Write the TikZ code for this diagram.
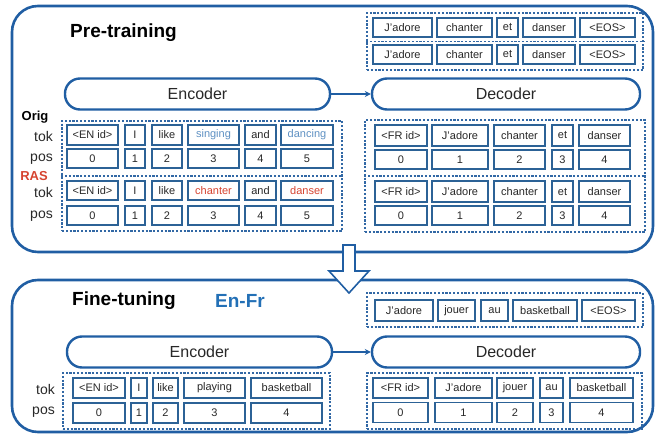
\documentclass[tikz,border=0pt]{standalone}
\usepackage{fontspec}
\setmainfont{Liberation Sans}
\usetikzlibrary{arrows.meta}

\definecolor{framec}{RGB}{32,94,163}
\definecolor{boxc}{RGB}{44,98,150}
\definecolor{dashc}{RGB}{50,104,165}
\definecolor{txt}{RGB}{40,40,40}
\definecolor{lblue}{RGB}{95,145,195}
\definecolor{rasred}{RGB}{214,68,48}
\definecolor{enfr}{RGB}{35,112,182}

\tikzset{
  frame/.style={draw=framec, line width=2.6pt, rounded corners=26pt, inner sep=0pt},
  pill/.style={draw=framec, line width=2.4pt, rounded corners=15pt, fill=white,
    minimum height=31pt, inner sep=0pt, text=txt, font=\fontsize{16}{18}\selectfont},
  dbox/.style={draw=dashc, line width=1.6pt, dash pattern=on 2.2pt off 1.6pt, inner sep=0pt},
  dline/.style={draw=dashc, line width=1.6pt, dash pattern=on 2.2pt off 1.6pt},
  tokbox/.style={draw=boxc, line width=1.6pt, fill=white, inner sep=0pt,
    font=\fontsize{11}{12}\selectfont},
  conn/.style={draw=framec, line width=1.6pt, -{Stealth[length=6pt,width=6pt]}},
  title/.style={font=\bfseries\fontsize{19}{22}\selectfont, text=black, anchor=west, inner sep=0pt},
  rowlab/.style={font=\fontsize{14}{16}\selectfont, text=txt, anchor=east, inner sep=0pt},
  grplab/.style={font=\bfseries\fontsize{13}{15}\selectfont, anchor=center, inner sep=0pt},
}

\begin{document}
\begin{tikzpicture}[x=1pt,y=-1pt]
\useasboundingbox (0,0) rectangle (655,435);

% ---------- outer frames ----------
\node[frame, minimum width=641pt, minimum height=246pt] (pre) at (332.5,129) {};
\node[frame, minimum width=641pt, minimum height=152pt] (ft) at (332.5,356) {};

% stage change arrow between the frames
\draw[draw=framec, line width=1.6pt, fill=white, line join=miter]
  (343,245) -- (355,245) -- (355,271) -- (369,271) -- (349,293)
  -- (329,271) -- (343,271) -- cycle;

% ---------- pre-training ----------
\node[title] (pretitle) at (70,33) {Pre-training};

% decoder targets (two rows)
\node[dbox, minimum width=276pt, minimum height=57pt] (ptgt) at (505,41.5) {};
\draw[dline] (ptgt.west |- 0,41.5) -- (ptgt.east |- 0,41.5);
\foreach \a/\b/\t [count=\i] in {373/432/J'adore, 437/492/chanter, 497/518/et, 523/575/danser, 580/635/<EOS>}{
  \node[tokbox, minimum width={(\b-\a)*1pt}, minimum height=19pt, text=txt] (ptA\i) at ({(\a+\b)/2},27.5) {\t};
  \node[tokbox, minimum width={(\b-\a)*1pt}, minimum height=19pt, text=txt] (ptB\i) at ({(\a+\b)/2},54.5) {\t};
}

% encoder / decoder
\node[pill, minimum width=265pt] (enc1) at (197.5,94) {Encoder};
\node[pill, minimum width=268pt] (dec1) at (506,94) {Decoder};
\draw[conn] (enc1) -- (dec1);

% row labels
\node[grplab, text=black] (lorig) at (35,117) {Orig};
\node[rowlab] (ltok1) at (53,136) {tok};
\node[rowlab] (lpos1) at (53,159) {pos};
\node[grplab, text=rasred] (lras) at (34,176) {RAS};
\node[rowlab] (ltok2) at (53,192) {tok};
\node[rowlab] (lpos2) at (53,216) {pos};

% encoder inputs, original and replaced
\node[dbox, minimum width=280pt, minimum height=110pt] (pein) at (202,176) {};
\draw[dline] (pein.west |- 0,176) -- (pein.east |- 0,176);
\foreach \a/\b/\t/\c/\u/\d [count=\i] in {
   67/118/<EN id>/txt/<EN id>/txt, 125/145/I/txt/I/txt, 152/182/like/txt/like/txt,
   188/239/singing/lblue/chanter/rasred, 245/276/and/txt/and/txt,
   281/333/dancing/lblue/danser/rasred}{
  \pgfmathtruncatemacro\p{\i-1}
  \node[tokbox, minimum width={(\b-\a)*1pt}, minimum height=20pt, text=\c] (peo\i) at ({(\a+\b)/2},135) {\t};
  \node[tokbox, minimum width={(\b-\a)*1pt}, minimum height=19pt, text=txt] (pep\i) at ({(\a+\b)/2},158.5) {\p};
  \node[tokbox, minimum width={(\b-\a)*1pt}, minimum height=19pt, text=\d] (per\i) at ({(\a+\b)/2},190.5) {\u};
  \node[tokbox, minimum width={(\b-\a)*1pt}, minimum height=19pt, text=txt] (peq\i) at ({(\a+\b)/2},215.5) {\p};
}

% decoder inputs
\node[dbox, minimum width=280pt, minimum height=112pt] (pdin) at (505,176) {};
\draw[dline] (pdin.west |- 0,176) -- (pdin.east |- 0,176);
\foreach \a/\b/\t [count=\i] in {375/427/<FR id>, 432/488/J'adore, 494/545/chanter, 552/573/et, 579/630/danser}{
  \pgfmathtruncatemacro\p{\i-1}
  \node[tokbox, minimum width={(\b-\a)*1pt}, minimum height=21pt, text=txt] (pdo\i) at ({(\a+\b)/2},135.5) {\t};
  \node[tokbox, minimum width={(\b-\a)*1pt}, minimum height=19pt, text=txt] (pdp\i) at ({(\a+\b)/2},159.5) {\p};
  \node[tokbox, minimum width={(\b-\a)*1pt}, minimum height=21pt, text=txt] (pdr\i) at ({(\a+\b)/2},191.5) {\t};
  \node[tokbox, minimum width={(\b-\a)*1pt}, minimum height=19pt, text=txt] (pdq\i) at ({(\a+\b)/2},215.5) {\p};
}

% ---------- fine-tuning ----------
\node[title] (fttitle) at (72,301) {Fine-tuning};
\node[title, text=enfr] (ftpair) at (215,301) {En-Fr};

% decoder targets
\node[dbox, minimum width=276pt, minimum height=34pt] (ftgt) at (505,310) {};
\foreach \a/\b/\t [count=\i] in {375/433/J'adore, 438/475/jouer, 481/508/au, 513/577/basketball, 582/635/<EOS>}{
  \node[tokbox, minimum width={(\b-\a)*1pt}, minimum height=21pt, text=txt] (ftt\i) at ({(\a+\b)/2},310.5) {\t};
}

% encoder / decoder
\node[pill, minimum width=265pt] (enc2) at (199.5,352) {Encoder};
\node[pill, minimum width=268pt] (dec2) at (506,352) {Decoder};
\draw[conn] (enc2) -- (dec2);

% row labels
\node[rowlab] (ltok3) at (55,389) {tok};
\node[rowlab] (lpos3) at (55,412) {pos};

% encoder inputs
\node[dbox, minimum width=267pt, minimum height=56pt] (fein) at (196.5,401) {};
\foreach \a/\b/\t [count=\i] in {73/125/<EN id>, 131/147/I, 153/178/like, 184/245/playing, 251/322/basketball}{
  \pgfmathtruncatemacro\p{\i-1}
  \node[tokbox, minimum width={(\b-\a)*1pt}, minimum height=20pt, text=txt] (feo\i) at ({(\a+\b)/2},388) {\t};
  \node[tokbox, minimum width={(\b-\a)*1pt}, minimum height=20pt, text=txt] (fep\i) at ({(\a+\b)/2},413) {\p};
}

% decoder inputs
\node[dbox, minimum width=275pt, minimum height=56pt] (fdin) at (504.5,401) {};
\foreach \a/\b/\t [count=\i] in {373/428/<FR id>, 435/492/J'adore, 497/533/jouer, 540/563/au, 570/633/basketball}{
  \pgfmathtruncatemacro\p{\i-1}
  \node[tokbox, minimum width={(\b-\a)*1pt}, minimum height=20pt, text=txt] (fdo\i) at ({(\a+\b)/2},388) {\t};
  \node[tokbox, minimum width={(\b-\a)*1pt}, minimum height=20pt, text=txt] (fdp\i) at ({(\a+\b)/2},412.5) {\p};
}
\end{tikzpicture}
\end{document}
